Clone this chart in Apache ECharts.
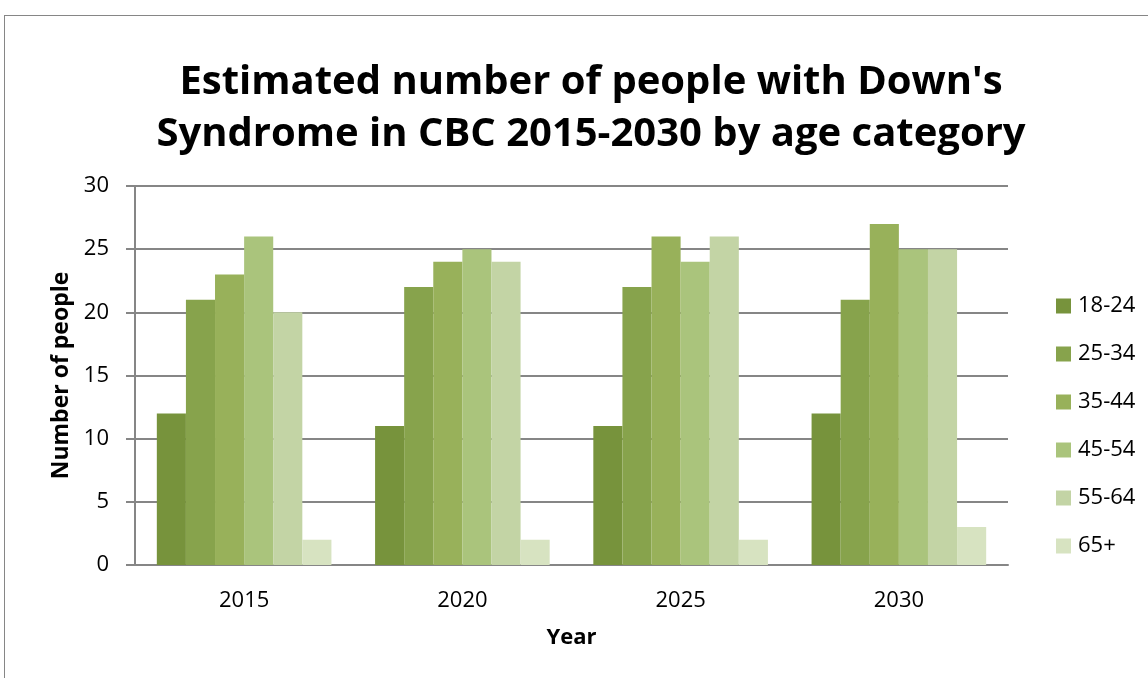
<!DOCTYPE html>
<html>
<head>
<meta charset="utf-8">
<script src="https://cdn.jsdelivr.net/npm/echarts@6/dist/echarts.min.js"></script>
<style>
  html, body { margin: 0; padding: 0; background: #fff; }
  #show { width: 1148px; height: 678px; }
  #frame { position: absolute; left: 4px; top: 15px; width: 1200px; height: 700px; border: 1px solid #868686; pointer-events: none; }
</style>
</head>
<body>
<div id="show"></div>
<div id="frame"></div>
<script>
var years = ['2015', '2020', '2025', '2030'];
var ageGroups = ['18-24', '25-34', '35-44', '45-54', '55-64', '65+'];
var colors = ['#77933c', '#87a34c', '#98b15a', '#aac47c', '#c3d4a5', '#d7e3c1'];

var v1824 = [12, 11, 11, 12];
var v2534 = [21, 22, 22, 21];
var v3544 = [23, 24, 26, 27];
var v4554 = [26, 25, 24, 25];
var v5564 = [20, 24, 26, 25];
var v65 = [2, 2, 2, 3];
var values = [v1824, v2534, v3544, v4554, v5564, v65];

var myChart = echarts.init(document.getElementById('show'));

var series = ageGroups.map(function (name, i) {
    return {
        name: name,
        type: 'bar',
        data: values[i],
        barGap: '0%',
        barCategoryGap: '20%',
        itemStyle: { color: colors[i] }
    };
});

myChart.setOption({
    animation: false,
    textStyle: { fontFamily: 'Open Sans' },
    title: {
        text: "Estimated number of people with Down's\nSyndrome in CBC 2015-2030 by age category",
        left: 586,
        textAlign: 'center',
        top: 52,
        textStyle: { fontSize: 40, fontWeight: 'bold', color: '#000', lineHeight: 52, fontFamily: 'Open Sans' }
    },
    legend: {
        orient: 'vertical',
        left: 1051,
        top: 290,
        itemWidth: 15,
        itemHeight: 15,
        itemGap: 26,
        icon: 'rect',
        textStyle: { fontSize: 22, color: '#000', padding: [0, 0, 0, 2] },
        data: ageGroups
    },
    grid: { left: 135, right: 140, top: 186, bottom: 113, containLabel: false },
    xAxis: {
        type: 'category',
        data: years,
        name: 'Year',
        nameLocation: 'middle',
        nameGap: 62,
        nameTextStyle: { fontSize: 22, fontWeight: 'bold', color: '#000' },
        axisLine: { lineStyle: { color: '#868686', width: 2 } },
        axisTick: { show: false },
        axisLabel: { fontSize: 22, color: '#000', margin: 25 }
    },
    yAxis: {
        type: 'value',
        min: 0,
        max: 30,
        interval: 5,
        name: 'Number of people',
        nameLocation: 'middle',
        nameGap: 61,
        nameTextStyle: { fontSize: 23, fontWeight: 'bold', color: '#000' },
        axisLine: { show: true, lineStyle: { color: '#868686', width: 2 } },
        axisTick: { show: true, length: 9, lineStyle: { color: '#868686', width: 2 } },
        axisLabel: { fontSize: 22, color: '#000', margin: 26 },
        splitLine: { lineStyle: { color: '#868686', width: 2 } }
    },
    series: series
});
</script>
</body>
</html>
